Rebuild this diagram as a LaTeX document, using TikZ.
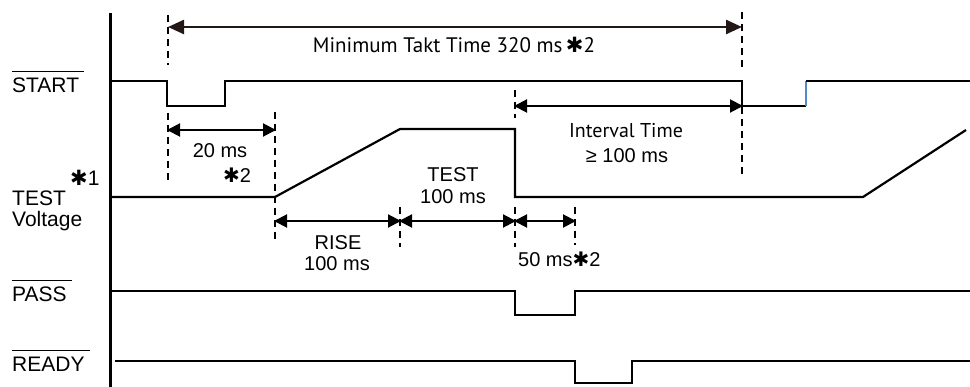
\documentclass[tikz,border=0pt]{standalone}
\usepackage{fontspec}
\setmainfont{Liberation Sans}
\newfontfamily\myriadfont{PT Sans}
\newfontfamily\symfont{DejaVu Sans}
\usetikzlibrary{arrows.meta}
\definecolor{DimBrown}{RGB}{35,24,21}
\definecolor{EdgeBlue}{RGB}{80,140,200}
\newcommand{\heavystar}{{\symfont ✱}}
\tikzset{
  signal/.style={line width=2.2pt,line join=miter},
  axis/.style={line width=3pt},
  guide/.style={line width=1.3pt,dash pattern=on 7pt off 5pt},
  overbar/.style={line width=1pt},
  dimline/.style={{Triangle[length=13pt,width=13pt]}-{Triangle[length=13pt,width=13pt]},
    line width=2pt,shorten <=-1pt,shorten >=-1pt},
  taktline/.style={{Triangle[length=16pt,width=14pt]}-{Triangle[length=16pt,width=14pt]},
    line width=2.4pt,DimBrown},
  signame/.style={anchor=base west,inner sep=0pt,font=\fontsize{21}{24}\selectfont},
  dimtext/.style={anchor=base,inner sep=0pt,font=\fontsize{20}{23}\selectfont},
  softtext/.style={anchor=base,inner sep=0pt,font=\myriadfont\fontsize{21}{24}\selectfont}
}
\begin{document}
\begin{tikzpicture}[x=1pt,y=-1pt]
  \useasboundingbox (0,0) rectangle (970,387);
  \draw[axis] (110,13) -- (110,387);

  % signal names
  \node[signame] (start) at (12,93) {START};
  \node[signame] (test) at (12,206) {TEST};
  \node[signame] (teststar) at (70,186) {\heavystar1};
  \node[signame] (volt) at (12,227) {Voltage};
  \node[signame] (pass) at (12,302) {PASS};
  \node[signame] (ready) at (12,372) {READY};
  \foreach \n in {start,pass,ready}
    \draw[overbar] ([yshift=7pt]\n.north west) -- ([yshift=7pt,xshift=5pt]\n.north east);

  % time marks
  \coordinate (taktL) at (168,27);   \coordinate (taktR) at (742,27);
  \coordinate (dlyL) at (168,130);   \coordinate (dlyR) at (275,130);
  \coordinate (intL) at (515,106);   \coordinate (intR) at (742,106);
  \coordinate (riseL) at (275,221);  \coordinate (riseR) at (400,221);
  \coordinate (testR) at (515,221);  \coordinate (judgeR) at (575,221);

  % waveforms
  \draw[signal] (112,81) -| (167,106) -| (225,81) -| (742,106) -- (806,106);
  \draw[signal,EdgeBlue] (806,106) -- (806,81);
  \draw[signal] (806,81) -- (970,81);
  \draw[signal] (112,197) -- (275,197) -- (400,129) -- (515,129) -- (515,197)
    -- (863,197) -- (966,130);
  \draw[signal] (112,291) -| (515,315) -| (575,291) -- (970,291);
  \draw[signal] (115,361) -| (575,383) -| (632,361) -- (970,361);

  % guides
  \draw[guide] (168,15) -- (168,65);
  \draw[guide] (742,12) -- (742,70);
  \draw[guide] (168,113) -- (168,182);
  \draw[guide] (275,112) -- (275,243);
  \draw[guide] (515,90) -- (515,118);
  \draw[guide] (742,107) -- (742,177);
  \draw[guide] (400,207) -- (400,247);
  \draw[guide] (515,207) -- (515,247);
  \draw[guide] (575,207) -- (575,245);

  % dimensions
  \draw[taktline] (taktL) -- (taktR);
  \draw[dimline] (dlyL) -- (dlyR);
  \draw[dimline] (intL) -- (intR);
  \draw[dimline] (riseL) -- (riseR);
  \draw[dimline] (riseR) -- (testR);
  \draw[dimline] (testR) -- (judgeR);

  \node[softtext] (takt) at (454,53) {Minimum Takt Time 320 ms\,\heavystar2};
  \node[dimtext] (dly) at (220,158) {20 ms};
  \node[dimtext,anchor=base west] (dlystar) at (223,183) {\heavystar2};
  \node[softtext,font=\myriadfont\fontsize{20}{23}\selectfont] (intv) at (626,138) {Interval Time};
  \node[dimtext] (intv2) at (627,163) {≥ 100 ms};
  \node[dimtext] (tst) at (453,182) {TEST};
  \node[dimtext] (tst2) at (453,204) {100 ms};
  \node[dimtext] (rise) at (338,250) {RISE};
  \node[dimtext] (rise2) at (337,271) {100 ms};
  \node[dimtext,anchor=base west] (judge) at (518,267) {50 ms\heavystar2};
\end{tikzpicture}
\end{document}
